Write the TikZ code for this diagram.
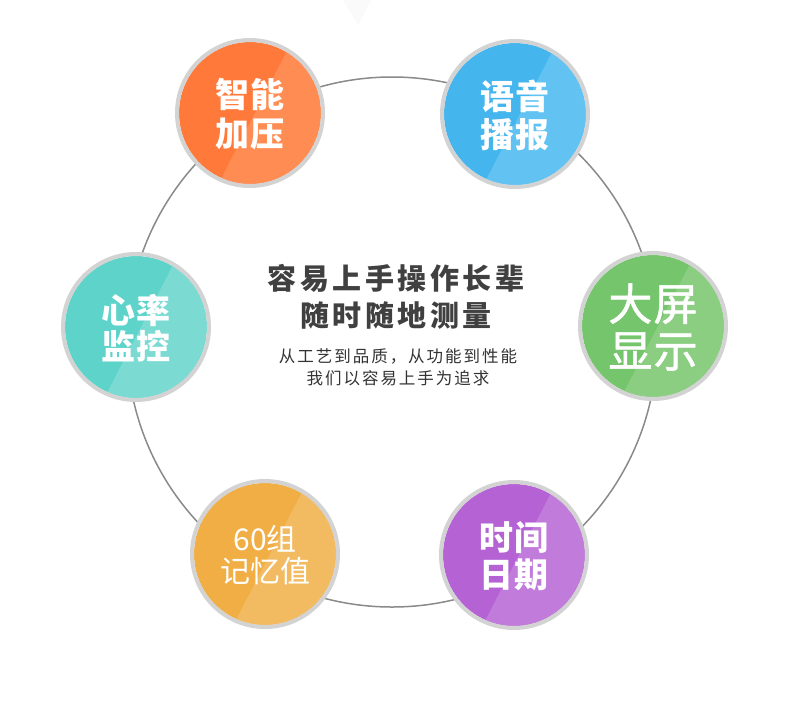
\documentclass[tikz,border=0pt]{standalone}
\usepackage{fontspec}
\setmainfont{Noto Sans CJK SC}
\newfontfamily\titlefont[LetterSpace=12]{Noto Sans CJK SC}
\newfontfamily\subfont[LetterSpace=12]{Noto Sans CJK SC}
\newfontfamily\bubfont[LetterSpace=4]{Noto Sans CJK SC}
\newfontfamily\medfont[LetterSpace=3,FakeBold=1.2]{Noto Sans CJK SC}
\definecolor{ringgray}{HTML}{8A8A8A}
\definecolor{bordergray}{HTML}{D3D3D3}
\definecolor{orD}{HTML}{FF7A3A}\definecolor{orL}{HTML}{FF8D53}
\definecolor{blD}{HTML}{45B5EE}\definecolor{blL}{HTML}{62C2F2}
\definecolor{teD}{HTML}{5ED3C9}\definecolor{teL}{HTML}{7BDBD3}
\definecolor{grD}{HTML}{75C56C}\definecolor{grL}{HTML}{8BCE82}
\definecolor{puD}{HTML}{B563D4}\definecolor{puL}{HTML}{C17CDB}
\definecolor{yeD}{HTML}{F0AE45}\definecolor{yeL}{HTML}{F2BB61}
\definecolor{titlegray}{HTML}{404040}
\definecolor{subgray}{HTML}{333333}
\tikzset{
  ring/.style={draw=ringgray, line width=1.5pt},
  bubborder/.style={draw=bordergray, line width=4pt},
  bubtext/.style={text=white, align=center, inner sep=0pt},
}
\newcommand\bubble[7]{%
  \begin{scope}[shift={(#2,#3)}]
    \begin{scope}
      \clip (0,0) circle[radius=71];
      \fill[#4] (0,0) circle[radius=71];
      \fill[#5] (50.8,-88.9) -- (100,-88.9) -- (100,88.9) -- (-40.8,88.9) -- cycle;
    \end{scope}
    \draw[bubborder] (0,0) circle[radius=73];
    \node[bubtext, font=#7] (#1) at (0,1) {#6};
  \end{scope}
}
\begin{document}
\begin{tikzpicture}[x=1pt,y=-1pt]
\useasboundingbox (0,0) rectangle (790,705);
\fill[white] (0,0) rectangle (790,705);
\fill[black!2] (343,0) -- (371,0) -- (358,25) -- cycle;
\draw[ring] (392,342) circle[radius=265];
\bubble{zhineng}{250}{113}{orD}{orL}{智能\\加压}{\bubfont\bfseries\fontsize{34}{39}\selectfont}
\bubble{yuyin}{515}{114}{blD}{blL}{语音\\播报}{\bubfont\bfseries\fontsize{34}{38}\selectfont}
\bubble{xinlv}{136}{327}{teD}{teL}{心率\\监控}{\bubfont\bfseries\fontsize{34}{36}\selectfont}
\bubble{daping}{653}{326}{grD}{grL}{大屏\\显示}{\medfont\fontsize{44}{47}\selectfont}
\bubble{jiyi}{265}{554}{yeD}{yeL}{60组\\记忆值}{\fontsize{30}{32}\selectfont}
\bubble{shijian}{514}{555}{puD}{puL}{时间\\日期}{\bubfont\bfseries\fontsize{34}{37}\selectfont}
\node[text=titlegray, align=center, inner sep=0pt, font=\titlefont\bfseries\fontsize{29}{37}\selectfont] (title) at (396,297) {容易上手操作长辈\\随时随地测量};
\node[text=subgray, align=center, inner sep=0pt, font=\subfont\fontsize{16.5}{22}\selectfont] (sub) at (398,367) {从工艺到品质，从功能到性能\\我们以容易上手为追求};
\end{tikzpicture}
\end{document}
